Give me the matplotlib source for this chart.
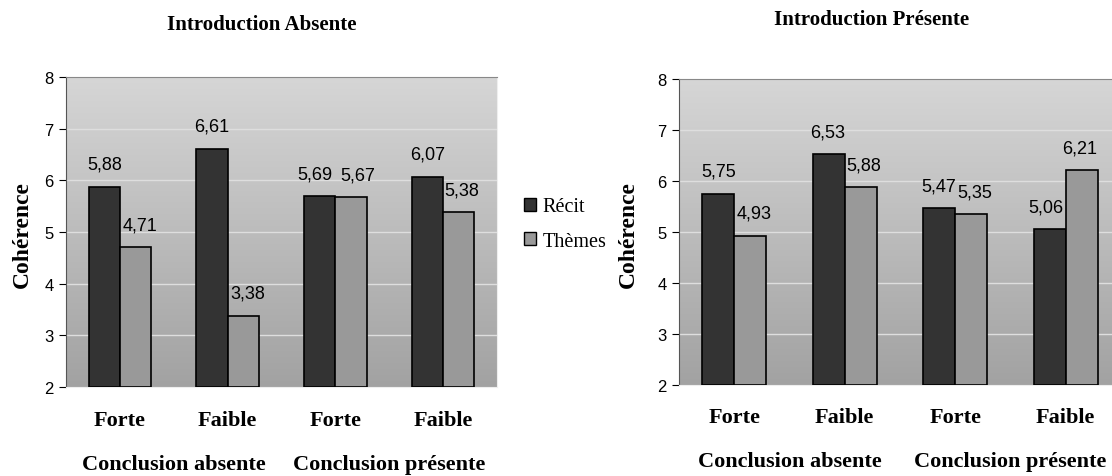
import numpy as np
import matplotlib
matplotlib.use("Agg")
import matplotlib.pyplot as plt
from matplotlib.colors import LinearSegmentedColormap
from matplotlib.patches import Patch

categories = ["Forte", "Faible", "Forte", "Faible"]
groups = ["Conclusion absente", "Conclusion présente"]
series = ["Récit", "Thèmes"]

recit_abs = [5.88, 6.61, 5.69, 6.07]
themes_abs = [4.71, 3.38, 5.67, 5.38]
recit_pres = [5.75, 6.53, 5.47, 5.06]
themes_pres = [4.93, 5.88, 5.35, 6.21]

titles = ["Introduction Absente", "Introduction Présente"]

W, H = 1112, 477
dark = "#333333"
light = "#999999"
serif = "Liberation Serif"
sans = "Liberation Sans"
bg = LinearSegmentedColormap.from_list("bg", ["#a2a2a2", "#d6d6d6"])


def px(x0, y0, x1, y1):
    return [x0 / W, 1 - y1 / H, (x1 - x0) / W, (y1 - y0) / H]


def panel(ax, recit, themes, title, title_xy, ylabel_x, shifts):
    x = np.arange(len(categories))
    w = 0.29
    ax.imshow(np.linspace(0, 1, 256)[:, None], extent=[0, 1, 0, 1],
              transform=ax.transAxes, cmap=bg, aspect="auto", origin="lower",
              zorder=0)
    b1 = ax.bar(x - w / 2, np.array(recit) - 2, w, bottom=2, color=dark,
                edgecolor="black", linewidth=1.2, zorder=3)
    b2 = ax.bar(x + w / 2, np.array(themes) - 2, w, bottom=2, color=light,
                edgecolor="black", linewidth=1.2, zorder=3)
    for i, (bars, vals) in enumerate([(b1, recit), (b2, themes)]):
        for j, (b, v) in enumerate(zip(bars, vals)):
            dx = shifts[i][j] * 0.72
            ax.annotate(f"{v:.2f}".replace(".", ","),
                        (b.get_x() + b.get_width() / 2, v),
                        xytext=(dx, 10), textcoords="offset points",
                        ha="center", va="bottom", fontsize=13,
                        family=sans, zorder=4)
    ax.set_xlim(-0.5, 3.5)
    ax.set_ylim(2, 8)
    ax.set_yticks([2, 3, 4, 5, 6, 7, 8])
    for yv in [3, 4, 5, 6, 7]:
        ax.axhline(yv, color="#dedede", linewidth=1, zorder=1)
    ax.set_xticks([])
    ax.tick_params(axis="y", labelsize=12, length=5, color="black", pad=4)
    for t in ax.get_yticklabels():
        t.set_family(sans)
    ax.spines["left"].set_color("#555555")
    ax.spines["top"].set_color("#888888")
    ax.spines["right"].set_color("#eeeeee")
    ax.spines["bottom"].set_color("#eeeeee")
    tr = ax.get_xaxis_transform()
    for xi, c in zip(x, categories):
        ax.text(xi, -0.105, c, transform=tr, ha="center", va="center",
                fontsize=16, fontweight="bold", family=serif)
    for k, g in enumerate(groups):
        ax.text(2 * k + 0.5, -0.25, g, transform=tr, ha="center",
                va="center", fontsize=16, fontweight="bold", family=serif)
    fig.text(title_xy[0] / W, 1 - title_xy[1] / H, title, ha="center",
             va="center", fontsize=15, fontweight="bold", family=serif)
    fig.text(ylabel_x / W, 1 - 235 / H, "Cohérence", rotation=90,
             ha="center", va="center", fontsize=17, fontweight="bold",
             family=serif)


fig = plt.figure(figsize=(W / 100, H / 100), dpi=100)

# label shifts in pixels: [Récit], [Thèmes]
ax1 = fig.add_axes(px(66, 78, 497, 388))
panel(ax1, recit_abs, themes_abs, titles[0], (262, 25), 22,
      [[0, 0, -5, 0], [5, 5, 7, 3]])

ax2 = fig.add_axes(px(679, 80, 1121, 386))
panel(ax2, recit_pres, themes_pres, titles[1], (872, 20), 628,
      [[0, -1, -1, -4], [4, 3, 3, -2]])

handles = [Patch(facecolor=dark, edgecolor="black"),
           Patch(facecolor=light, edgecolor="black")]
fig.legend(handles, series, loc="center left",
           bbox_to_anchor=(506 / W, 1 - 225 / H),
           frameon=False, prop={"family": serif, "size": 14.5},
           handlelength=0.6, handleheight=0.6, handletextpad=0.3,
           labelspacing=0.75)

fig.savefig("out.png", dpi=100)
